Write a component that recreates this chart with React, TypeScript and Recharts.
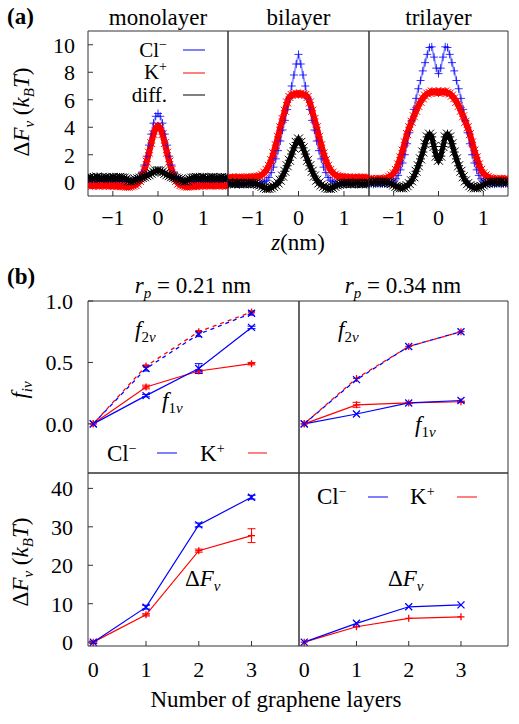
import { LineChart, Line, XAxis, YAxis, ErrorBar } from 'recharts'

const FONT = "'Liberation Serif', serif"
const FRAME = '#333'
const BLUE = '#0000ff'
const RED = '#ff0000'

// ---------- panel (a): free-energy profiles along z (nm) ----------
const zGrid = [-1.55, -1.5, -1.45, -1.4, -1.35, -1.3, -1.25, -1.2, -1.15, -1.1, -1.05, -1.0, -0.95, -0.9, -0.85, -0.8, -0.75, -0.7, -0.65, -0.6, -0.55, -0.5, -0.45, -0.4, -0.35, -0.3, -0.25, -0.2, -0.15, -0.1, -0.05, 0, 0.05, 0.1, 0.15, 0.2, 0.25, 0.3, 0.35, 0.4, 0.45, 0.5, 0.55, 0.6, 0.65, 0.7, 0.75, 0.8, 0.85, 0.9, 0.95, 1.0, 1.05, 1.1, 1.15, 1.2, 1.25, 1.3, 1.35, 1.4, 1.45, 1.5, 1.55]

const monoCl = [0.1, 0.12, 0.08, 0.1, 0.12, 0.1, 0.08, 0.1, 0.12, 0.1, 0.1, 0.08, 0.1, 0.12, 0.1, 0.08, 0.06, 0.04, 0.0, 0.0, 0.05, 0.12, 0.22, 0.42, 0.75, 1.25, 1.9, 2.7, 3.5, 4.3, 4.8, 5.0, 4.8, 4.3, 3.5, 2.7, 1.9, 1.25, 0.75, 0.42, 0.22, 0.12, 0.05, 0.0, 0.02, 0.05, 0.08, 0.1, 0.12, 0.1, 0.08, 0.1, 0.12, 0.1, 0.1, 0.08, 0.1, 0.12, 0.1, 0.1, 0.08, 0.1, 0.12]
const monoK = [-0.2, -0.22, -0.25, -0.2, -0.22, -0.25, -0.22, -0.2, -0.25, -0.22, -0.25, -0.22, -0.25, -0.28, -0.25, -0.28, -0.3, -0.32, -0.32, -0.3, -0.25, -0.2, -0.1, 0.1, 0.45, 0.9, 1.5, 2.15, 2.85, 3.5, 3.95, 4.1, 3.95, 3.5, 2.85, 2.15, 1.5, 0.9, 0.45, 0.1, -0.1, -0.2, -0.25, -0.3, -0.32, -0.3, -0.28, -0.25, -0.28, -0.25, -0.22, -0.25, -0.2, -0.22, -0.25, -0.22, -0.2, -0.22, -0.25, -0.2, -0.22, -0.25, -0.2]
const monoDiff = [0.3, 0.35, 0.28, 0.32, 0.38, 0.3, 0.33, 0.28, 0.35, 0.3, 0.32, 0.36, 0.3, 0.33, 0.35, 0.32, 0.3, 0.25, 0.12, 0.08, 0.12, 0.2, 0.25, 0.3, 0.35, 0.4, 0.48, 0.55, 0.65, 0.75, 0.82, 0.85, 0.82, 0.75, 0.65, 0.55, 0.48, 0.4, 0.35, 0.3, 0.25, 0.2, 0.12, 0.08, 0.12, 0.25, 0.3, 0.33, 0.35, 0.3, 0.32, 0.36, 0.3, 0.28, 0.33, 0.35, 0.3, 0.32, 0.28, 0.35, 0.3, 0.33, 0.3]

const biCl = [-0.1, -0.08, -0.12, -0.1, -0.08, -0.1, -0.12, -0.1, -0.08, -0.1, -0.12, -0.1, -0.1, -0.12, -0.1, -0.05, 0.05, 0.15, 0.35, 0.7, 1.1, 1.7, 2.3, 3.0, 3.8, 4.5, 5.3, 6.1, 7.0, 7.8, 8.6, 9.3, 8.6, 7.8, 7.0, 6.1, 5.3, 4.5, 3.8, 3.0, 2.3, 1.7, 1.1, 0.7, 0.35, 0.15, 0.05, -0.05, -0.1, -0.12, -0.1, -0.08, -0.1, -0.12, -0.1, -0.1, -0.08, -0.12, -0.1, -0.1, -0.08, -0.12, -0.1]
const biK = [0.3, 0.32, 0.35, 0.3, 0.33, 0.35, 0.32, 0.3, 0.34, 0.35, 0.33, 0.36, 0.38, 0.4, 0.45, 0.55, 0.7, 0.9, 1.2, 1.6, 2.1, 2.7, 3.3, 4.0, 4.6, 5.2, 5.8, 6.2, 6.35, 6.4, 6.45, 6.4, 6.45, 6.4, 6.35, 6.2, 5.8, 5.2, 4.6, 4.0, 3.3, 2.7, 2.1, 1.6, 1.2, 0.9, 0.7, 0.55, 0.45, 0.4, 0.38, 0.36, 0.33, 0.35, 0.3, 0.32, 0.34, 0.3, 0.33, 0.35, 0.3, 0.32, 0.3]
const biDiff = [-0.05, -0.1, -0.08, -0.12, -0.05, -0.1, -0.08, -0.12, -0.1, -0.05, -0.1, -0.08, -0.1, -0.15, -0.2, -0.3, -0.4, -0.45, -0.45, -0.4, -0.3, -0.2, -0.05, 0.15, 0.45, 0.8, 1.2, 1.6, 2.05, 2.5, 2.9, 3.15, 2.9, 2.5, 2.05, 1.6, 1.2, 0.8, 0.45, 0.15, -0.05, -0.2, -0.3, -0.4, -0.45, -0.45, -0.4, -0.3, -0.2, -0.15, -0.1, -0.08, -0.1, -0.05, -0.12, -0.1, -0.08, -0.05, -0.1, -0.12, -0.08, -0.1, -0.05]

const triCl = [-0.12, -0.1, -0.15, -0.12, -0.1, -0.14, -0.12, -0.1, -0.12, -0.08, 0.0, 0.1, 0.25, 0.5, 0.9, 1.4, 2.0, 2.8, 3.6, 4.5, 5.3, 6.1, 6.8, 7.4, 8.1, 8.7, 9.3, 9.8, 9.85, 9.1, 8.3, 7.9, 8.3, 9.1, 9.85, 9.8, 9.3, 8.7, 8.1, 7.4, 6.8, 6.1, 5.3, 4.5, 3.6, 2.8, 2.0, 1.4, 0.9, 0.5, 0.25, 0.1, 0.0, -0.08, -0.12, -0.1, -0.14, -0.12, -0.1, -0.15, -0.12, -0.1, -0.12]
const triK = [0.2, 0.25, 0.22, 0.2, 0.25, 0.22, 0.24, 0.25, 0.3, 0.4, 0.5, 0.65, 0.9, 1.3, 1.8, 2.3, 2.9, 3.5, 4.0, 4.4, 4.8, 5.2, 5.55, 5.85, 6.1, 6.3, 6.45, 6.5, 6.6, 6.55, 6.6, 6.5, 6.6, 6.55, 6.6, 6.5, 6.45, 6.3, 6.1, 5.85, 5.55, 5.2, 4.8, 4.4, 4.0, 3.5, 2.9, 2.3, 1.8, 1.3, 0.9, 0.65, 0.5, 0.4, 0.3, 0.25, 0.24, 0.2, 0.22, 0.25, 0.2, 0.22, 0.2]
const triDiff = [0.02, -0.03, 0.0, 0.03, -0.02, 0.0, 0.03, -0.02, 0.0, -0.05, -0.1, -0.2, -0.3, -0.35, -0.4, -0.4, -0.35, -0.25, -0.1, 0.1, 0.4, 0.8, 1.2, 1.7, 2.2, 2.8, 3.3, 3.5, 3.3, 2.6, 1.9, 1.6, 1.9, 2.6, 3.3, 3.5, 3.3, 2.8, 2.2, 1.7, 1.2, 0.8, 0.4, 0.1, -0.1, -0.25, -0.35, -0.4, -0.4, -0.35, -0.3, -0.2, -0.1, -0.05, 0.0, -0.02, 0.03, 0.0, -0.02, 0.03, 0.0, -0.03, 0.02]

const zTicks = [-1, 0, 1]
const zMinor = [-1.4, -1.2, -0.8, -0.6, -0.4, -0.2, 0.2, 0.4, 0.6, 0.8, 1.2, 1.4]
const dfaTicks = [0, 2, 4, 6, 8, 10]
const dfaMinor = [1, 3, 5, 7, 9]

// ---------- panel (b): vs number of graphene layers ----------
const layers = [0, 1, 2, 3]

// r_p = 0.21 nm
const clF2Small = [0, 0.45, 0.73, 0.9]
const kF2Small = [0, 0.47, 0.75, 0.91]
const clF2SmallErr = [0, 0.02, 0.02, 0.015]
const kF2SmallErr = [0, 0.01, 0.01, 0.01]
const clF1Small = [0, 0.23, 0.45, 0.785]
const kF1Small = [0, 0.3, 0.43, 0.49]
const clF1SmallErr = [0, 0.01, 0.04, 0.01]
const kF1SmallErr = [0, 0.015, 0.01, 0.01]
const clDFSmall = [0, 9.1, 30.5, 37.7]
const kDFSmall = [0, 7.1, 23.8, 27.7]
const clDFSmallErr = [0.3, 0.5, 0.5, 0.5]
const kDFSmallErr = [0.2, 0.3, 0.4, 1.8]

// r_p = 0.34 nm
const clF2Large = [0, 0.36, 0.63, 0.75]
const kF2Large = [0, 0.37, 0.63, 0.75]
const clF1Large = [0, 0.08, 0.17, 0.19]
const kF1Large = [0, 0.155, 0.17, 0.18]
const kF1LargeErr = [0, 0.02, 0.005, 0.005]
const clDFLarge = [0, 4.9, 9.2, 9.7]
const kDFLarge = [0, 4.0, 6.2, 6.6]

const fTicks = [0, 0.5, 1.0]
const fMinor = [-0.3, -0.2, -0.1, 0.1, 0.2, 0.3, 0.4, 0.6, 0.7, 0.8, 0.9]
const dfbTicks = [0, 10, 20, 30, 40]
const dfbMinor = [2, 4, 6, 8, 12, 14, 16, 18, 22, 24, 26, 28, 32, 34, 36, 38, 42]

const profileRows = (cl: number[], k: number[], d: number[]) =>
  zGrid.map((z, i) => ({ x: z, cl: cl[i], k: k[i], d: d[i] }))

const fRows = (clF2: number[], kF2: number[], clF1: number[], kF1: number[], clF2e: number[], kF2e: number[], clF1e: number[], kF1e: number[]) =>
  layers.map((n, i) => ({ x: n, clF2: clF2[i], kF2: kF2[i], clF1: clF1[i], kF1: kF1[i], clF2e: clF2e[i], kF2e: kF2e[i], clF1e: clF1e[i], kF1e: kF1e[i] }))

const dfRows = (cl: number[], k: number[], cle: number[], ke: number[]) =>
  layers.map((n, i) => ({ x: n, cl: cl[i], k: k[i], cle: cle[i], ke: ke[i] }))

const zeros = [0, 0, 0, 0]

function marker(kind: 'plus' | 'cross' | 'star', color: string, s: number, sw = 1) {
  return (p: any) => {
    const { cx, cy, index } = p
    if (cx == null || cy == null) return <g key={`m${index}`} />
    let d = ''
    if (kind !== 'cross') d += `M${cx - s},${cy}H${cx + s}M${cx},${cy - s}V${cy + s}`
    if (kind !== 'plus') d += `M${cx - s},${cy - s}L${cx + s},${cy + s}M${cx - s},${cy + s}L${cx + s},${cy - s}`
    return <path key={`m${index}`} d={d} stroke={color} strokeWidth={sw} fill="none" />
  }
}

const minus = (v: number) => (v < 0 ? `\u2212${Math.abs(v)}` : String(v))
const oneDec = (v: number) => v.toFixed(1)

interface PanelProps {
  x: number
  y: number
  w: number
  h: number
  data: any[]
  xDomain: [number, number]
  yDomain: [number, number]
  xTicks: number[]
  xMinor: number[]
  yTicks: number[]
  yMinor: number[]
  xLabels?: boolean
  yLabels?: boolean
  xFmt?: (v: number) => string
  yFmt?: (v: number) => string
  xMargin: number
  yMargin: number
  children: any
}

// each axis takes 1px, so margins are trimmed by 2px per side to keep the plot box exact
function Panel({ x, y, w, h, data, xDomain, yDomain, xTicks, xMinor, yTicks, yMinor, xLabels, yLabels, xFmt, yFmt, xMargin, yMargin, children }: PanelProps) {
  const ML = 60, MT = 20, MR = 10, MB = 45
  const tickFont = { fontFamily: FONT, fontSize: 22, fill: '#000', style: { fontFamily: FONT } }
  const minorLine = { stroke: FRAME, strokeWidth: 1 }
  return (
    <div style={{ position: 'absolute', left: x - ML, top: y - MT }}>
      <LineChart width={w + ML + MR} height={h + MT + MB} data={data} margin={{ top: MT - 2, right: MR - 2, bottom: MB - 2, left: ML - 2 }}>
        <XAxis xAxisId="b" dataKey="x" type="number" domain={xDomain} ticks={xTicks} interval={0} allowDataOverflow height={1}
          tickSize={-5} tickMargin={xMargin} tick={xLabels ? tickFont : false} tickFormatter={xFmt} stroke={FRAME} />
        <XAxis xAxisId="bm" type="number" domain={xDomain} ticks={xMinor} interval={0} allowDataOverflow height={1}
          tickSize={-3} tick={false} axisLine={false} tickLine={minorLine} />
        <XAxis xAxisId="t" orientation="top" type="number" domain={xDomain} ticks={xTicks} interval={0} allowDataOverflow height={1}
          tickSize={-5} tick={false} stroke={FRAME} />
        <XAxis xAxisId="tm" orientation="top" type="number" domain={xDomain} ticks={xMinor} interval={0} allowDataOverflow height={1}
          tickSize={-3} tick={false} axisLine={false} tickLine={minorLine} />
        <YAxis yAxisId="l" type="number" domain={yDomain} ticks={yTicks} interval={0} allowDataOverflow width={1}
          tickSize={-5} tickMargin={yMargin} tick={yLabels ? tickFont : false} tickFormatter={yFmt} stroke={FRAME} />
        <YAxis yAxisId="lm" type="number" domain={yDomain} ticks={yMinor} interval={0} allowDataOverflow width={1}
          tickSize={-3} tick={false} axisLine={false} tickLine={minorLine} />
        <YAxis yAxisId="r" orientation="right" type="number" domain={yDomain} ticks={yTicks} interval={0} allowDataOverflow width={1}
          tickSize={-5} tick={false} stroke={FRAME} />
        <YAxis yAxisId="rm" orientation="right" type="number" domain={yDomain} ticks={yMinor} interval={0} allowDataOverflow width={1}
          tickSize={-3} tick={false} axisLine={false} tickLine={minorLine} />
        {children}
      </LineChart>
    </div>
  )
}

function profileSeries() {
  return [
    <Line key="cl" xAxisId="b" yAxisId="l" dataKey="cl" stroke={BLUE} strokeWidth={2} strokeOpacity={0.4}
      dot={marker('plus', BLUE, 4, 0.8)} activeDot={false} isAnimationActive={false} />,
    <Line key="k" xAxisId="b" yAxisId="l" dataKey="k" stroke={RED} strokeWidth={6}
      dot={marker('star', RED, 4)} activeDot={false} isAnimationActive={false} />,
    <Line key="d" xAxisId="b" yAxisId="l" dataKey="d" stroke="#000" strokeWidth={5}
      dot={marker('star', '#000', 4.5)} activeDot={false} isAnimationActive={false} />,
  ]
}

function fSeries() {
  return [
    <Line key="kF2" xAxisId="b" yAxisId="l" dataKey="kF2" stroke={RED} strokeWidth={1.3} strokeDasharray="4 4" strokeDashoffset={4}
      dot={marker('plus', RED, 3.5, 1.3)} activeDot={false} isAnimationActive={false}>
      <ErrorBar dataKey="kF2e" direction="y" width={3} stroke={RED} strokeWidth={1} isAnimationActive={false} />
    </Line>,
    <Line key="clF2" xAxisId="b" yAxisId="l" dataKey="clF2" stroke={BLUE} strokeWidth={1.3} strokeDasharray="4 4"
      dot={marker('cross', BLUE, 3.5, 1.3)} activeDot={false} isAnimationActive={false}>
      <ErrorBar dataKey="clF2e" direction="y" width={3} stroke={BLUE} strokeWidth={1} isAnimationActive={false} />
    </Line>,
    <Line key="kF1" xAxisId="b" yAxisId="l" dataKey="kF1" stroke={RED} strokeWidth={1.2}
      dot={marker('plus', RED, 3.5, 1.3)} activeDot={false} isAnimationActive={false}>
      <ErrorBar dataKey="kF1e" direction="y" width={4} stroke={RED} strokeWidth={1} isAnimationActive={false} />
    </Line>,
    <Line key="clF1" xAxisId="b" yAxisId="l" dataKey="clF1" stroke={BLUE} strokeWidth={1.2}
      dot={marker('cross', BLUE, 3.5, 1.3)} activeDot={false} isAnimationActive={false}>
      <ErrorBar dataKey="clF1e" direction="y" width={4} stroke={BLUE} strokeWidth={1} isAnimationActive={false} />
    </Line>,
  ]
}

function dfSeries() {
  return [
    <Line key="k" xAxisId="b" yAxisId="l" dataKey="k" stroke={RED} strokeWidth={1.2}
      dot={marker('plus', RED, 3.5, 1.3)} activeDot={false} isAnimationActive={false}>
      <ErrorBar dataKey="ke" direction="y" width={4} stroke={RED} strokeWidth={1} isAnimationActive={false} />
    </Line>,
    <Line key="cl" xAxisId="b" yAxisId="l" dataKey="cl" stroke={BLUE} strokeWidth={1.2}
      dot={marker('cross', BLUE, 3.5, 1.3)} activeDot={false} isAnimationActive={false}>
      <ErrorBar dataKey="cle" direction="y" width={4} stroke={BLUE} strokeWidth={1} isAnimationActive={false} />
    </Line>,
  ]
}

const SUB = 15

function DeltaF({ units }: { units?: boolean }) {
  return (
    <>
      <tspan>Δ</tspan>
      <tspan fontStyle="italic">F</tspan>
      <tspan fontStyle="italic" fontSize={SUB} dy={5}>ν</tspan>
      {units ? (
        <>
          <tspan dy={-5}> (</tspan>
          <tspan fontStyle="italic">k</tspan>
          <tspan fontStyle="italic" fontSize={SUB} dy={5}>B</tspan>
          <tspan fontStyle="italic" dy={-5}>T</tspan>
          <tspan>)</tspan>
        </>
      ) : null}
    </>
  )
}

function Ion({ name, sign }: { name: string; sign: string }) {
  return (
    <>
      <tspan>{name}</tspan>
      <tspan fontSize={14} dy={-8}>{sign}</tspan>
    </>
  )
}

function Fi({ i }: { i: string }) {
  return (
    <>
      <tspan fontStyle="italic">f</tspan>
      <tspan fontSize={SUB} dy={5}>{i}</tspan>
      <tspan fontSize={SUB} fontStyle="italic">ν</tspan>
    </>
  )
}

function Overlay() {
  const t = { fontSize: 23, fill: '#000', style: { fontFamily: FONT } }
  const leg = { fontSize: 21, fill: '#000', style: { fontFamily: FONT } }
  return (
    <svg width={519} height={724} style={{ position: 'absolute', left: 0, top: 0, pointerEvents: 'none', fontFamily: FONT }}>
      <text x={7} y={24} {...t} fontWeight="bold">(a)</text>
      <text x={158} y={25} {...t} textAnchor="middle">monolayer</text>
      <text x={298.5} y={25} {...t} textAnchor="middle">bilayer</text>
      <text x={438.5} y={25} {...t} textAnchor="middle">trilayer</text>

      <text x={167} y={57} {...leg} textAnchor="end"><Ion name="Cl" sign="−" /></text>
      <line x1={183} x2={205} y1={50} y2={50} stroke={BLUE} strokeWidth={1} />
      <text x={167} y={79} {...leg} textAnchor="end"><Ion name="K" sign="+" /></text>
      <line x1={183} x2={205} y1={73} y2={73} stroke={RED} strokeWidth={1} />
      <text x={167} y={102} {...leg} textAnchor="end">diff.</text>
      <line x1={183} x2={205} y1={95} y2={95} stroke="#000" strokeWidth={1} />

      <text x={298} y={250} {...t} textAnchor="middle"><tspan fontStyle="italic">z</tspan><tspan>(nm)</tspan></text>
      <text transform="rotate(-90)" x={-112} y={29} {...t} textAnchor="middle"><DeltaF units /></text>

      <text x={7} y={284} {...t} fontWeight="bold">(b)</text>
      <text x={193} y={293} {...t} textAnchor="middle">
        <tspan fontStyle="italic">r</tspan><tspan fontStyle="italic" fontSize={SUB} dy={5}>p</tspan><tspan dy={-5}> = 0.21 nm</tspan>
      </text>
      <text x={403} y={293} {...t} textAnchor="middle">
        <tspan fontStyle="italic">r</tspan><tspan fontStyle="italic" fontSize={SUB} dy={5}>p</tspan><tspan dy={-5}> = 0.34 nm</tspan>
      </text>

      <text x={135} y={337} {...t}><Fi i="2" /></text>
      <text x={162} y={408} {...t}><Fi i="1" /></text>
      <text x={338} y={337} {...t}><Fi i="2" /></text>
      <text x={415} y={432} {...t}><Fi i="1" /></text>

      <text x={107} y={461} {...t}><Ion name="Cl" sign="−" /></text>
      <line x1={157} x2={177} y1={453} y2={453} stroke={BLUE} strokeWidth={1} />
      <text x={200} y={461} {...t}><Ion name="K" sign="+" /></text>
      <line x1={248} x2={267} y1={453} y2={453} stroke={RED} strokeWidth={1} />

      <text x={317} y={504} {...t}><Ion name="Cl" sign="−" /></text>
      <line x1={368} x2={388} y1={497} y2={497} stroke={BLUE} strokeWidth={1} />
      <text x={410} y={504} {...t}><Ion name="K" sign="+" /></text>
      <line x1={457} x2={477} y1={497} y2={497} stroke={RED} strokeWidth={1} />

      <text x={185} y={586} {...t}><DeltaF /></text>
      <text x={388} y={586} {...t}><DeltaF /></text>

      <text transform="rotate(-90)" x={-390} y={27} {...t} textAnchor="middle">
        <tspan fontStyle="italic">f</tspan><tspan fontStyle="italic" fontSize={SUB} dy={5}>iν</tspan>
      </text>
      <text transform="rotate(-90)" x={-562} y={28} {...t} textAnchor="middle"><DeltaF units /></text>

      <text x={276} y={707} {...t} textAnchor="middle">Number of graphene layers</text>
    </svg>
  )
}

export default function App() {
  const aCommon = {
    y: 31, h: 165, xDomain: [-1.55, 1.55] as [number, number], yDomain: [-1, 11] as [number, number],
    xTicks: zTicks, xMinor: zMinor, yTicks: dfaTicks, yMinor: dfaMinor, xLabels: true,
    xFmt: minus, yFmt: minus, xMargin: 18, yMargin: 18,
  }
  const bCommon = {
    xDomain: [-0.1, 3.9] as [number, number], xTicks: layers, xMinor: [] as number[], xFmt: minus, xMargin: 20, yMargin: 20,
  }
  return (
    <div style={{ position: 'absolute', left: 0, top: 0, width: 519, height: 724, background: '#fff', overflow: 'hidden', fontFamily: FONT }}>
      <Panel {...aCommon} x={88} w={140} data={profileRows(monoCl, monoK, monoDiff)} yLabels>{profileSeries()}</Panel>
      <Panel {...aCommon} x={228} w={141} data={profileRows(biCl, biK, biDiff)}>{profileSeries()}</Panel>
      <Panel {...aCommon} x={369} w={139} data={profileRows(triCl, triK, triDiff)}>{profileSeries()}</Panel>

      <Panel {...bCommon} x={88} y={301} w={211} h={172} yDomain={[-0.4, 1.0]} yTicks={fTicks} yMinor={fMinor} yLabels yFmt={oneDec}
        data={fRows(clF2Small, kF2Small, clF1Small, kF1Small, clF2SmallErr, kF2SmallErr, clF1SmallErr, kF1SmallErr)}>{fSeries()}</Panel>
      <Panel {...bCommon} x={299} y={301} w={209} h={172} yDomain={[-0.4, 1.0]} yTicks={fTicks} yMinor={fMinor}
        data={fRows(clF2Large, kF2Large, clF1Large, kF1Large, zeros, zeros, zeros, kF1LargeErr)}>{fSeries()}</Panel>
      <Panel {...bCommon} x={88} y={473} w={211} h={173} yDomain={[-1, 44]} yTicks={dfbTicks} yMinor={dfbMinor} yLabels xLabels yFmt={minus}
        data={dfRows(clDFSmall, kDFSmall, clDFSmallErr, kDFSmallErr)}>{dfSeries()}</Panel>
      <Panel {...bCommon} x={299} y={473} w={209} h={173} yDomain={[-1, 44]} yTicks={dfbTicks} yMinor={dfbMinor} xLabels
        data={dfRows(clDFLarge, kDFLarge, zeros, zeros)}>{dfSeries()}</Panel>

      <Overlay />
    </div>
  )
}
